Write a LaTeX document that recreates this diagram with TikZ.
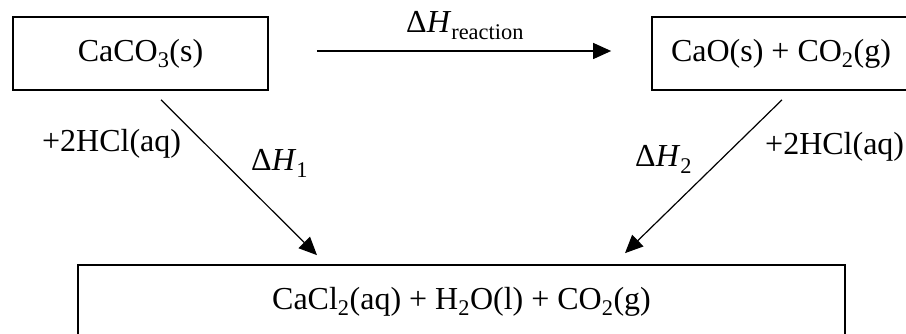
\documentclass[tikz,border=0pt]{standalone}
\usepackage{fontspec}
\setmainfont{Liberation Serif}
\usetikzlibrary{arrows.meta}
\tikzset{
  box/.style={draw, line width=1.7pt, inner sep=0pt, minimum height=73pt, align=center},
  arr/.style={line width=1.2pt, -{Triangle[length=18pt,width=16pt]}},
  lbl/.style={inner sep=0pt, anchor=base west}
}
\begin{document}
\begin{tikzpicture}[x=1pt,y=-1pt,font=\fontsize{32}{38}\selectfont]
\useasboundingbox (0,0) rectangle (906,334);
\clip (0,0) rectangle (906,334);
\node[box, minimum width=255pt] (c1) at (140.5,53.5) {CaCO\textsubscript{3}(s)};
\node[box, minimum width=258pt] (c2) at (781,53.5) {CaO(s) + CO\textsubscript{2}(g)};
\node[box, minimum width=767pt] (c3) at (461.5,301.5) {CaCl\textsubscript{2}(aq) + H\textsubscript{2}O(l) + CO\textsubscript{2}(g)};
\draw[arr] ([xshift=48pt,yshift=2.5pt]c1.east) -- ([xshift=-40pt,yshift=2.5pt]c2.west);
\draw[arr] ([xshift=20.5pt,yshift=-9pt]c1.south) -- ([xshift=-144.5pt,yshift=9pt]c3.north);
\draw[arr] ([xshift=1pt,yshift=-9pt]c2.south) -- ([xshift=163.5pt,yshift=11pt]c3.north);
\node[lbl] (lr) at (406,33) {Δ\textit{H}\textsubscript{reaction}};
\node[lbl] (l1a) at (42,152) {+2HCl(aq)};
\node[lbl] (l1b) at (251,171) {Δ\textit{H}\textsubscript{1}};
\node[lbl] (l2b) at (635,167) {Δ\textit{H}\textsubscript{2}};
\node[lbl] (l2a) at (765,155) {+2HCl(aq)};
\end{tikzpicture}
\end{document}
